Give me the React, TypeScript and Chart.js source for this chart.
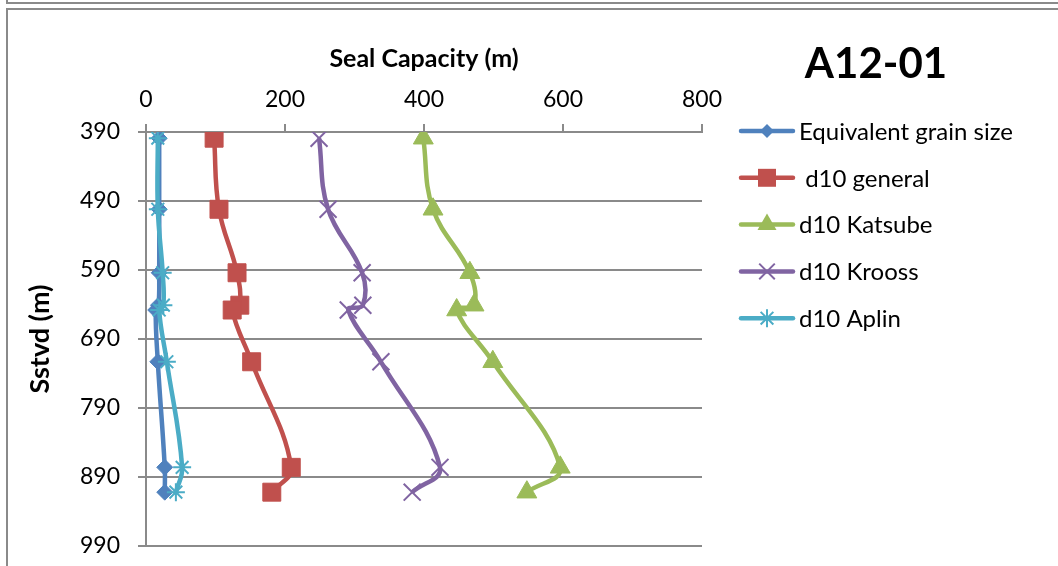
import React, { useEffect, useRef } from 'react';
import { Chart, registerables } from 'chart.js';

Chart.register(...registerables);

// ---- data ----
const depths = [399, 502, 594, 641, 648, 723, 876, 912];
const seriesNames = ['Equivalent grain size', ' d10 general', 'd10 Katsube', 'd10 Krooss', 'd10 Aplin'];
const equivalentGrainSize = [19, 19, 19, 18, 14, 17, 27, 27];
const d10General = [98, 105, 131, 135, 124, 152, 209, 181];
const d10Katsube = [399, 413, 466, 472, 447, 499, 596, 548];
const d10Krooss = [249, 262, 311, 312, 291, 338, 423, 383];
const d10Aplin = [17, 17, 24, 25, 19, 30, 52, 43];
const xTickValues = [0, 200, 400, 600, 800];
const yTickValues = [390, 490, 590, 690, 790, 890, 990];
const chartTitle = 'A12-01';
const xAxisTitle = 'Seal Capacity (m)';
const yAxisTitle = 'Sstvd (m)';

const seriesValues = [equivalentGrainSize, d10General, d10Katsube, d10Krooss, d10Aplin];
const colors = ['#4F81BD', '#C0504D', '#9BBB59', '#8064A2', '#4BACC6'];
const pointStyles = ['rectRot', 'rect', 'triangle', 'crossRot', 'star'];
const pointRadii = [8, 12.7, 11.5, 12, 9];
const legendRadii = [7, 12.7, 11, 11, 9];
const FONT = 'Lato, "Open Sans", sans-serif';
const GRID = '#8a8a8a';

function drawMarker(ctx: CanvasRenderingContext2D, style: string, x: number, y: number, r: number, color: string) {
  ctx.save();
  ctx.fillStyle = color;
  ctx.strokeStyle = color;
  ctx.lineWidth = 2;
  ctx.beginPath();
  if (style === 'rectRot') {
    ctx.moveTo(x - r, y); ctx.lineTo(x, y - r); ctx.lineTo(x + r, y); ctx.lineTo(x, y + r); ctx.closePath(); ctx.fill();
  } else if (style === 'rect') {
    const s = Math.SQRT1_2 * r; ctx.rect(x - s, y - s, 2 * s, 2 * s); ctx.fill();
  } else if (style === 'triangle') {
    let a = 0;
    ctx.moveTo(x + Math.sin(a) * r, y - Math.cos(a) * r);
    a += (2 * Math.PI) / 3; ctx.lineTo(x + Math.sin(a) * r, y - Math.cos(a) * r);
    a += (2 * Math.PI) / 3; ctx.lineTo(x + Math.sin(a) * r, y - Math.cos(a) * r);
    ctx.closePath(); ctx.fill();
  } else if (style === 'crossRot') {
    const s = Math.SQRT1_2 * r;
    ctx.moveTo(x - s, y - s); ctx.lineTo(x + s, y + s); ctx.moveTo(x - s, y + s); ctx.lineTo(x + s, y - s); ctx.stroke();
  } else if (style === 'star') {
    const s = Math.SQRT1_2 * r;
    ctx.moveTo(x - s, y - s); ctx.lineTo(x + s, y + s); ctx.moveTo(x - s, y + s); ctx.lineTo(x + s, y - s);
    ctx.moveTo(x, y - r); ctx.lineTo(x, y + r); ctx.moveTo(x - r, y); ctx.lineTo(x + r, y); ctx.stroke();
  }
  ctx.restore();
}

const overlayPlugin = {
  id: 'overlay',
  afterDraw(chart: any) {
    const ctx: CanvasRenderingContext2D = chart.ctx;
    const area = chart.chartArea;
    // title
    ctx.save();
    ctx.font = `bold 42px ${FONT}`;
    ctx.fillStyle = '#000';
    ctx.textAlign = 'center';
    ctx.textBaseline = 'middle';
    ctx.fillText(chartTitle, area.right + 174, 64);
    ctx.restore();
    // legend
    chart.data.datasets.forEach((ds: any, i: number) => {
      const y = area.top - 1 + i * 46.8;
      const x0 = area.right + 39;
      ctx.save();
      ctx.strokeStyle = colors[i];
      ctx.lineWidth = 4.5;
      ctx.lineCap = 'round';
      ctx.beginPath();
      ctx.moveTo(x0, y);
      ctx.lineTo(x0 + 52, y);
      ctx.stroke();
      ctx.restore();
      drawMarker(ctx, pointStyles[i], x0 + 26, y, legendRadii[i], colors[i]);
      ctx.save();
      ctx.font = `24px ${FONT}`;
      ctx.fillStyle = '#000';
      ctx.textAlign = 'left';
      ctx.textBaseline = 'middle';
      ctx.fillText(ds.label, x0 + 58, y + 1);
      ctx.restore();
    });
  },
};

export default function App() {
  const ref = useRef<HTMLCanvasElement | null>(null);

  useEffect(() => {
    if (!ref.current) return;
    const datasets = seriesValues.map((vals, i) => ({
      label: seriesNames[i],
      data: vals.map((v, j) => ({ x: v, y: depths[j] })),
      borderColor: colors[i],
      backgroundColor: colors[i],
      borderWidth: 4.5,
      tension: 0.4,
      pointStyle: pointStyles[i] as any,
      pointRadius: pointRadii[i],
      pointBorderWidth: i >= 3 ? 2 : 1,
      pointBackgroundColor: colors[i],
      pointBorderColor: colors[i],
      order: 5 - i,
    }));
    const chart = new Chart(ref.current, {
      type: 'line',
      data: { datasets },
      options: {
        animation: false,
        responsive: false,
        events: [],
        layout: { padding: { left: 10, top: 10, right: 356, bottom: 20 } },
        plugins: { legend: { display: false }, tooltip: { enabled: false }, title: { display: false } },
        scales: {
          x: {
            type: 'linear',
            position: 'top',
            min: 0,
            max: 800,
            afterBuildTicks: (s: any) => { s.ticks = xTickValues.map((v) => ({ value: v })); },
            afterFit: (s: any) => { s.height = 122; s.paddingLeft = 0; s.paddingRight = 0; },
            grid: { display: true, drawOnChartArea: false, drawTicks: true, tickLength: 8, color: GRID, lineWidth: 2 },
            border: { display: true, color: GRID, width: 2 },
            ticks: { color: '#000', font: { family: FONT, size: 23 }, padding: 11, maxRotation: 0 },
            title: { display: true, text: xAxisTitle, color: '#000', font: { family: FONT, size: 25, weight: 'bold' }, padding: { top: 34, bottom: 0 } },
          },
          y: {
            type: 'linear',
            position: 'left',
            reverse: true,
            min: 390,
            max: 990,
            afterBuildTicks: (s: any) => { s.ticks = yTickValues.map((v) => ({ value: v })); },
            afterFit: (s: any) => { s.width = 136; s.paddingTop = 0; s.paddingBottom = 0; },
            grid: { display: true, drawOnChartArea: true, drawTicks: true, tickLength: 8, color: GRID, lineWidth: 2 },
            border: { display: true, color: GRID, width: 2 },
            ticks: { color: '#000', font: { family: FONT, size: 23 }, padding: 18 },
            title: { display: true, text: yAxisTitle, color: '#000', font: { family: FONT, size: 27, weight: 'bold' }, padding: { top: 14, bottom: 0 } },
          },
        },
      },
      plugins: [overlayPlugin],
    } as any);
    return () => chart.destroy();
  }, []);

  return (
    <div style={{ position: 'fixed', left: 0, top: 0, width: 1058, height: 566, background: '#fff', overflow: 'hidden' }}>
      <div style={{ position: 'absolute', left: 6, top: 2, right: 0, height: 2, background: GRID }} />
      <div style={{ position: 'absolute', left: 6, top: 0, width: 2, height: 4, background: GRID }} />
      <div style={{ position: 'absolute', left: 6, top: 8, right: 0, height: 2, background: GRID }} />
      <div style={{ position: 'absolute', left: 6, top: 8, width: 2, bottom: 0, background: GRID }} />
      <canvas ref={ref} width={1058} height={566} style={{ position: 'absolute', left: 0, top: 0, width: 1058, height: 566 }} />
    </div>
  );
}
